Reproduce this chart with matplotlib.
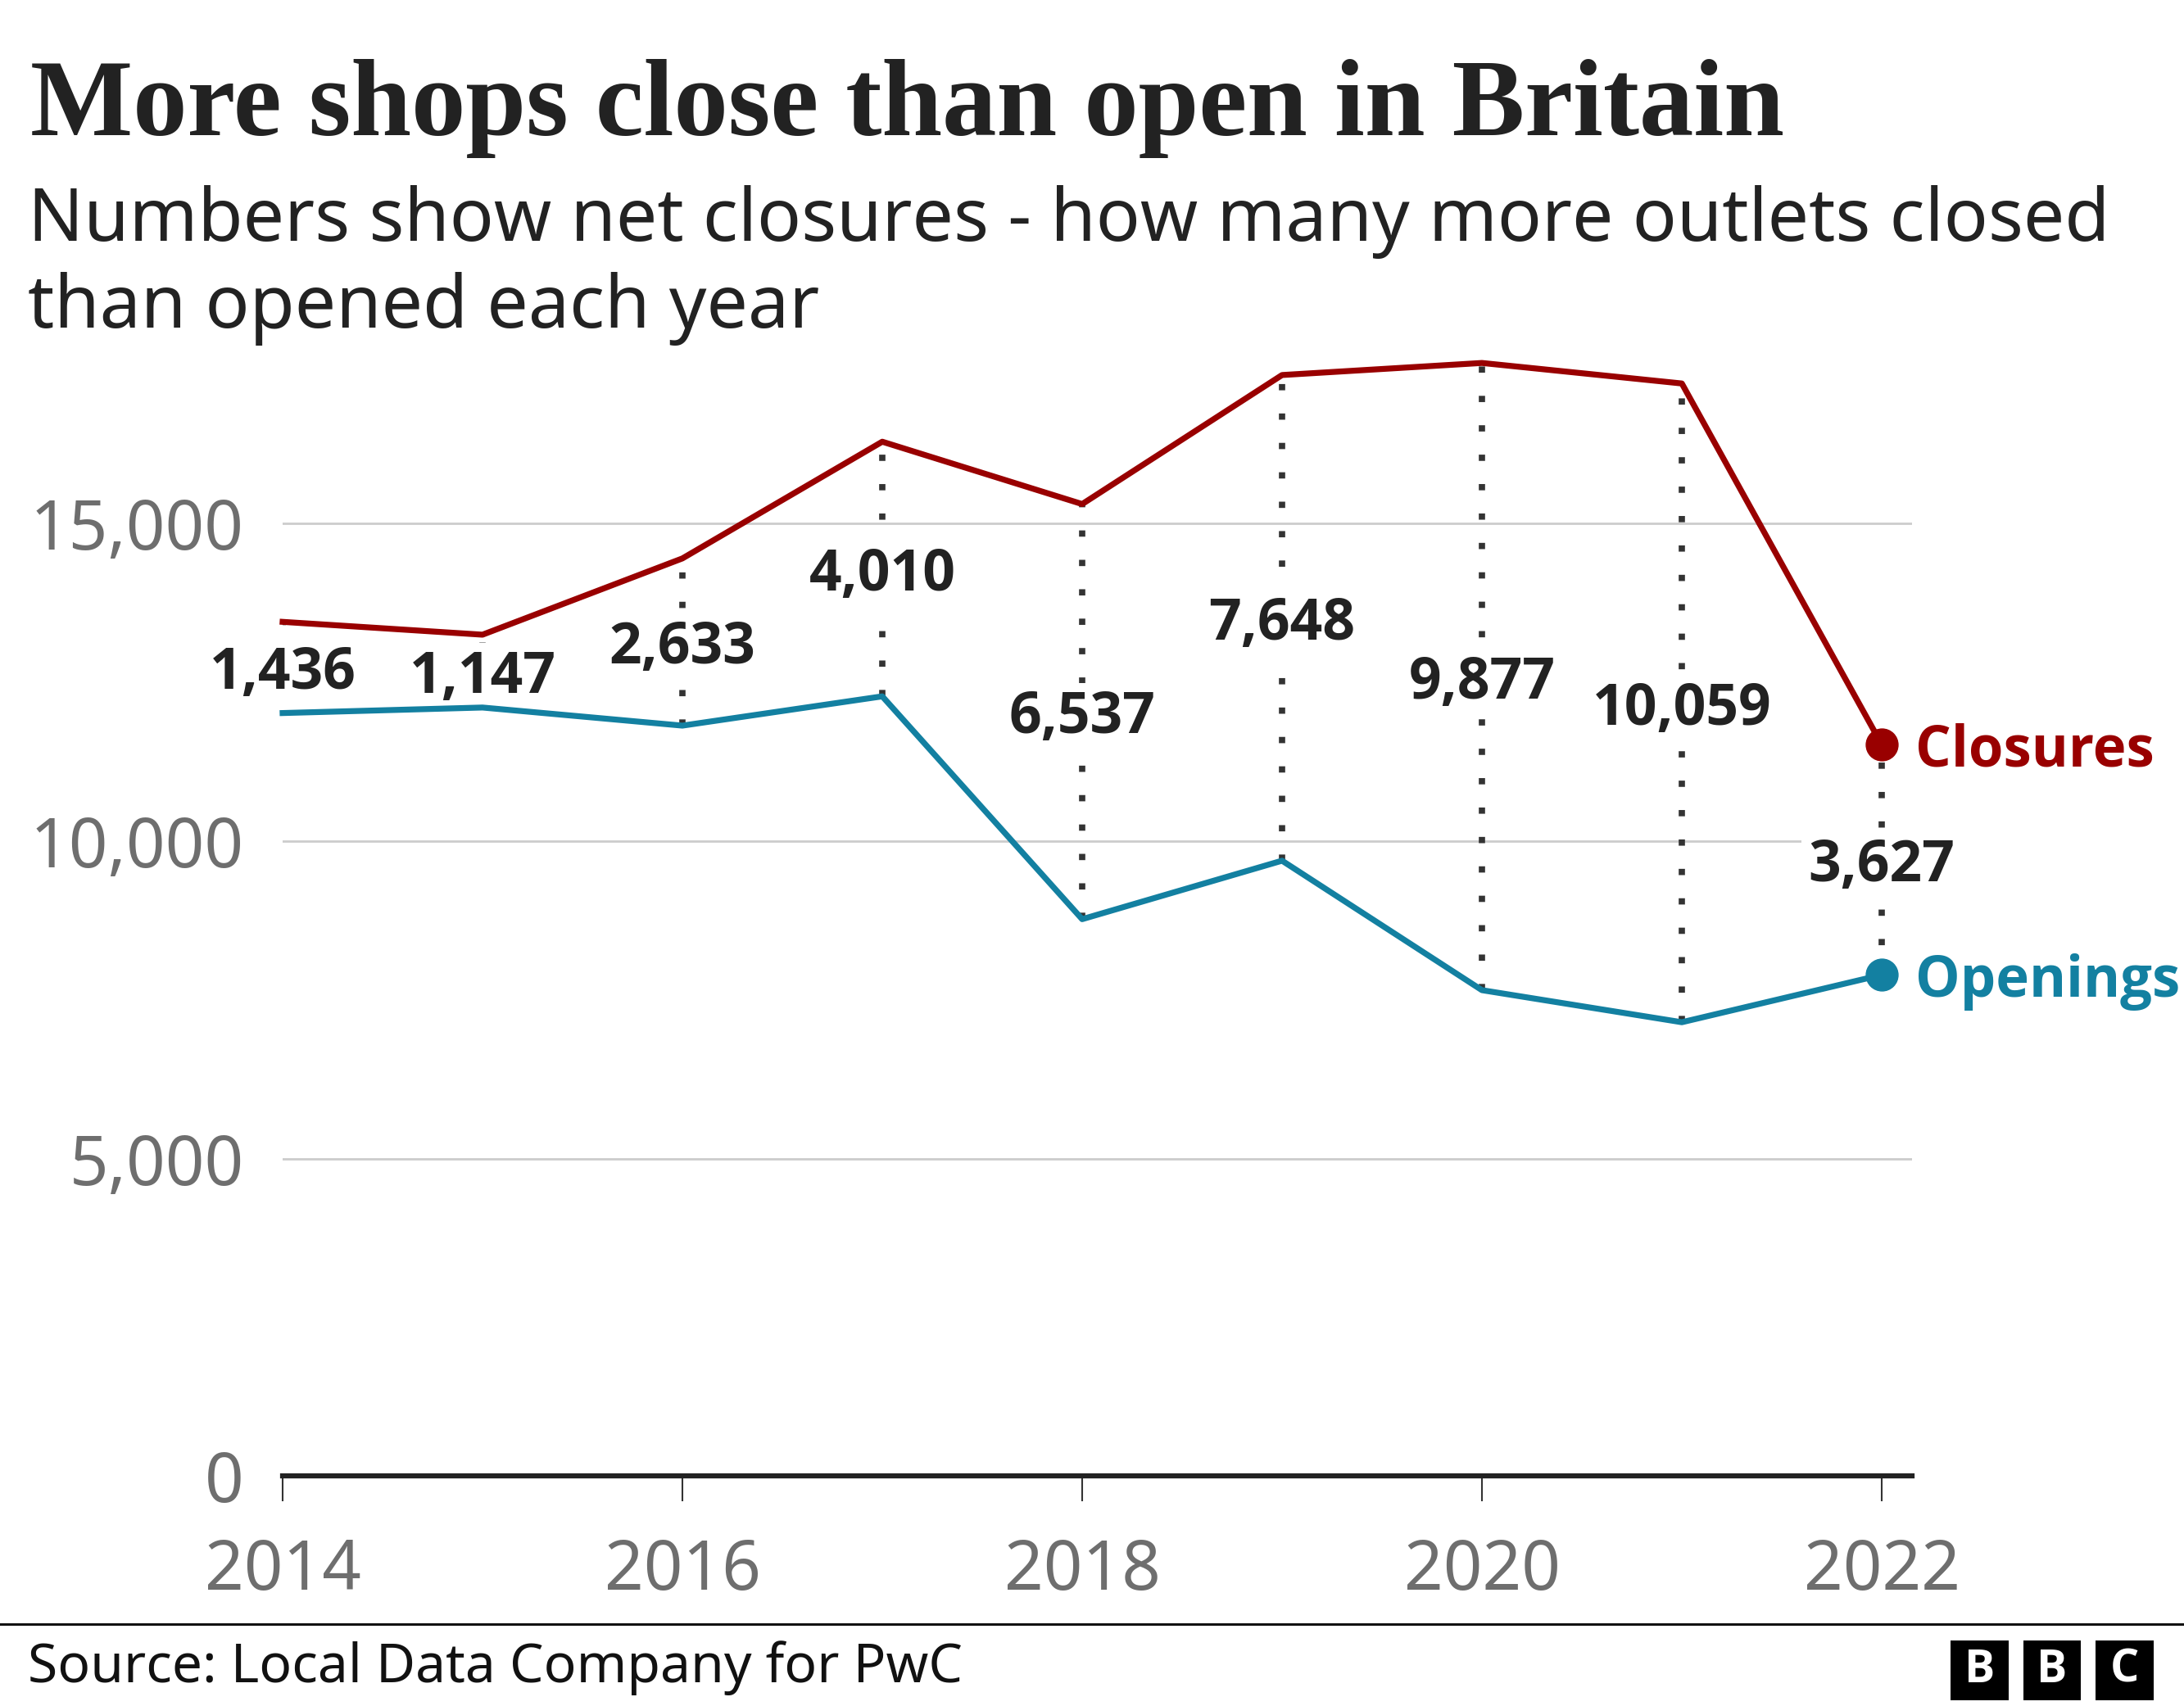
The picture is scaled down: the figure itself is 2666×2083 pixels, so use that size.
import matplotlib
matplotlib.use("Agg")
import matplotlib.pyplot as plt
from matplotlib.patches import Rectangle

years = [2014, 2015, 2016, 2017, 2018, 2019, 2020, 2021, 2022]
closures = [13454, 13252, 14453, 16291, 15309, 17341, 17531, 17208, 11522]
openings = [12018, 12105, 11820, 12281, 8772, 9693, 7654, 7149, 7895]
net_labels = ["1,436", "1,147", "2,633", "4,010", "6,537", "7,648", "9,877", "10,059", "3,627"]
y_ticks = [0, 5000, 10000, 15000]
y_tick_labels = ["0", "5,000", "10,000", "15,000"]
x_ticks = [2014, 2016, 2018, 2020, 2022]

RED = "#990000"
TEAL = "#1380A1"
DARK = "#222222"
GREY = "#6e6e6e"
BOLD = ["Open Sans", "DejaVu Sans"]

plt.rcParams["font.family"] = ["Noto Sans", "DejaVu Sans"]

fig = plt.figure(figsize=(26.66, 20.83), dpi=100)
ax = fig.add_axes([0.1294, 0.1347, 0.8756 - 0.1294, 0.8047 - 0.1347])

# dotted connectors between the two series
ax.vlines(years, openings, closures, colors="#333333", linestyles=(0, (1, 3.7)),
          linewidth=5.5, zorder=1, capstyle="butt")

ax.plot(years, closures, color=RED, linewidth=5.2, zorder=3, clip_on=False)
ax.plot(years, openings, color=TEAL, linewidth=5.2, zorder=3, clip_on=False)
ax.plot(years[-1], closures[-1], "o", color=RED, markersize=28, zorder=4, clip_on=False)
ax.plot(years[-1], openings[-1], "o", color=TEAL, markersize=28, zorder=4, clip_on=False)

# net closure labels sit over the dotted lines and grid, but under the series
for yr, c, o, lab in zip(years, closures, openings, net_labels):
    ax.text(yr, (c + o) / 2, lab, ha="center", va="center_baseline", fontsize=50,
            fontweight="bold", family=BOLD, color=DARK, zorder=2,
            bbox=dict(facecolor="white", edgecolor="none", pad=6))

ax.text(years[-1] + 0.17, closures[-1], "Closures", ha="left", va="center_baseline",
        fontsize=49.5, fontweight="bold", family=BOLD, color=RED, clip_on=False)
ax.text(years[-1] + 0.17, openings[-1], "Openings", ha="left", va="center_baseline",
        fontsize=49.5, fontweight="bold", family=BOLD, color=TEAL, clip_on=False)

ax.set_xlim(2014, 2022.153)
ax.set_ylim(0, 18000)
ax.set_yticks(y_ticks)
ax.set_yticklabels(y_tick_labels)
ax.set_xticks(x_ticks)
ax.set_xticklabels([str(x) for x in x_ticks])
ax.tick_params(axis="y", length=0, pad=34, labelsize=60, labelcolor=GREY)
ax.tick_params(axis="x", length=22, width=1.5, color="#333333", pad=32,
               labelsize=60, labelcolor=GREY)
for lab in ax.get_yticklabels():
    lab.set_verticalalignment("center_baseline")
ax.grid(axis="y", color="#cccccc", linewidth=2)
ax.set_axisbelow(True)
for s in ax.spines.values():
    s.set_visible(False)
ax.axhline(0, color=DARK, linewidth=4.5, zorder=2.5, clip_on=False)

# headings
fig.text(0.014, 0.9208, "More shops close than open in Britain", fontsize=95.5,
         fontweight="bold", family=["Liberation Serif"], color=DARK, va="baseline")
fig.text(0.0128, 0.8588, "Numbers show net closures - how many more outlets closed",
         fontsize=64.5, color=DARK, va="baseline")
fig.text(0.0128, 0.8082, "than opened each year", fontsize=64.5, color=DARK, va="baseline")

# footer
fig.add_artist(plt.Line2D([0, 1], [0.048, 0.048], color="#111111", linewidth=2.2,
                          transform=fig.transFigure))
fig.text(0.0128, 0.0139, "Source: Local Data Company for PwC", fontsize=47.5,
         color="#111111", va="baseline")
for i, letter in enumerate("BBC"):
    x0 = 0.893 + i * 0.0333
    fig.add_artist(Rectangle((x0, 0.0034), 0.0266, 0.035, facecolor="black",
                             edgecolor="none", transform=fig.transFigure))
    fig.text(x0 + 0.0133, 0.0034 + 0.0175, letter, fontsize=40, fontweight="bold",
             family=BOLD, color="white", ha="center", va="center")

fig.savefig("out.png", dpi=100, facecolor="white")
